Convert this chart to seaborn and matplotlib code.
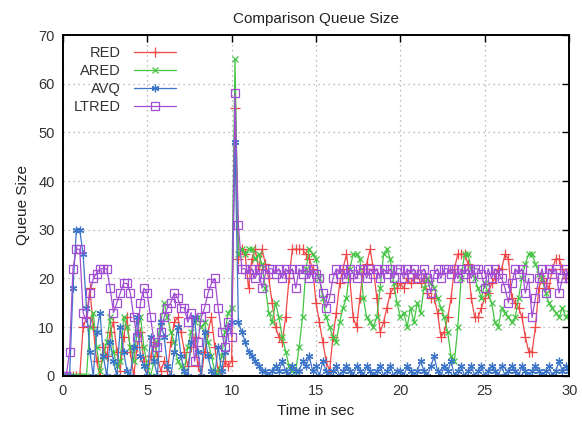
import numpy as np
import pandas as pd
import matplotlib
matplotlib.use("Agg")
import matplotlib.pyplot as plt
import seaborn as sns

# time axis: samples every 0.2 s from 0 to 30 s
time_step = 0.2
n_points = 151

red = [
    0, 0, 0, 0, 0, 0, 10, 12, 18, 10,
    3, 0, 6, 4, 9, 11, 5, 1, 8, 12,
    5, 0, 6, 9, 3, 0, 4, 7, 4, 1,
    3, 1, 7, 11, 12, 9, 5, 2, 6, 8,
    2, 0, 5, 9, 12, 6, 1, 0, 3, 2,
    3, 55, 24, 26, 25, 18, 24, 26, 22, 26,
    23, 20, 15, 10, 8, 7, 12, 20, 26, 26,
    26, 26, 25, 24, 22, 15, 11, 7, 3, 1,
    8, 13, 19, 22, 25, 20, 12, 10, 16, 22,
    23, 26, 22, 16, 9, 11, 14, 17, 18, 18,
    19, 18, 20, 19, 20, 21, 19, 20, 17, 16,
    16, 13, 8, 9, 12, 16, 22, 25, 25, 25,
    23, 16, 12, 12, 14, 16, 17, 19, 20, 22,
    22, 25, 24, 16, 15, 14, 12, 8, 5, 5,
    10, 18, 20, 19, 18, 22, 24, 24, 22, 20,
    22,
]

ared = [
    0, 0, 0, 0, 0, 0, 0, 0, 10, 13,
    6, 1, 4, 7, 12, 5, 2, 3, 12, 10,
    6, 3, 9, 12, 6, 2, 0, 3, 7, 11,
    15, 12, 9, 7, 3, 2, 1, 6, 9, 11,
    12, 10, 11, 7, 4, 1, 0, 4, 9, 13,
    14, 65, 25, 26, 25, 26, 26, 24, 25, 23,
    18, 13, 11, 15, 12, 8, 5, 2, 1, 1,
    6, 12, 22, 26, 25, 24, 20, 16, 12, 10,
    8, 7, 11, 14, 16, 22, 25, 25, 24, 16,
    12, 11, 10, 12, 18, 25, 26, 24, 19, 15,
    12, 13, 10, 14, 11, 15, 13, 18, 20, 19,
    18, 16, 14, 12, 9, 4, 3, 10, 20, 25,
    25, 22, 20, 18, 16, 19, 17, 15, 11, 10,
    14, 13, 12, 11, 12, 16, 20, 23, 25, 25,
    23, 21, 20, 17, 15, 14, 13, 12, 14, 12,
    13,
]

avq = [
    0, 0, 0, 18, 30, 30, 25, 14, 5, 0,
    9, 13, 4, 0, 7, 3, 0, 10, 5, 1,
    0, 6, 12, 4, 2, 0, 8, 3, 0, 11,
    8, 2, 0, 5, 10, 4, 1, 0, 7, 12,
    5, 0, 9, 4, 1, 0, 6, 1, 5, 10,
    11, 48, 11, 9, 7, 5, 4, 3, 2, 1,
    1, 0, 1, 2, 1, 3, 1, 0, 2, 1,
    1, 3, 2, 4, 1, 2, 0, 3, 1, 0,
    1, 2, 0, 1, 2, 1, 0, 2, 1, 0,
    2, 1, 0, 1, 2, 0, 1, 2, 0, 1,
    1, 0, 2, 1, 0, 1, 3, 1, 0, 2,
    4, 1, 0, 2, 1, 3, 0, 1, 2, 0,
    1, 2, 0, 1, 2, 0, 1, 2, 1, 0,
    2, 0, 1, 2, 1, 0, 2, 1, 0, 1,
    2, 1, 0, 1, 2, 0, 1, 3, 1, 2,
    1,
]

ltred = [
    0, 0, 5, 22, 26, 26, 13, 11, 17, 20,
    21, 22, 22, 22, 18, 13, 15, 17, 19, 19,
    17, 12, 8, 15, 18, 17, 12, 7, 6, 9,
    12, 14, 15, 17, 16, 14, 14, 11, 13, 3,
    7, 12, 14, 17, 19, 20, 14, 9, 6, 11,
    8, 58, 31, 22, 22, 21, 22, 20, 22, 18,
    21, 22, 22, 21, 22, 20, 22, 21, 22, 18,
    22, 21, 22, 20, 22, 21, 20, 17, 14, 16,
    20, 22, 21, 22, 20, 22, 21, 20, 22, 22,
    20, 22, 21, 22, 20, 22, 21, 22, 20, 22,
    22, 20, 22, 21, 22, 20, 21, 22, 20, 17,
    21, 22, 20, 22, 22, 21, 22, 20, 22, 21,
    22, 20, 22, 22, 21, 18, 22, 20, 22, 21,
    20, 18, 15, 19, 22, 21, 22, 17, 20, 12,
    16, 20, 22, 17, 22, 21, 22, 17, 20, 22,
    20,
]

series_names = ["RED", "ARED", "AVQ", "LTRED"]
x_ticks = [0, 5, 10, 15, 20, 25, 30]
y_ticks = [0, 10, 20, 30, 40, 50, 60, 70]

t = np.round(np.arange(n_points) * time_step, 1)

sns.set_theme(style="white")
plt.rcParams["font.family"] = ["Liberation Sans", "DejaVu Sans"]

fig = plt.figure(figsize=(5.82, 4.33), dpi=100)
ax = fig.add_axes([0.108, 0.132, 0.870, 0.787])

styles = {
    "RED": dict(color="#f04848", marker="+", ms=6.5, mew=0.9, mfc="#f04848"),
    "ARED": dict(color="#44c444", marker="x", ms=5, mew=0.9, mfc="#44c444"),
    "AVQ": dict(color="#3c74c8", marker=(6, 2, 0), ms=5.5, mew=0.9, mfc="#3c74c8"),
    "LTRED": dict(color="#a24ed2", marker="s", ms=5.2, mew=0.9, mfc="none"),
}

data = {"RED": red, "ARED": ared, "AVQ": avq, "LTRED": ltred}
for name in series_names:
    st = styles[name]
    sns.lineplot(x=t, y=data[name], ax=ax, color=st["color"], lw=0.9,
                 marker=st["marker"], markersize=st["ms"],
                 markeredgewidth=st["mew"], markerfacecolor=st["mfc"],
                 markeredgecolor=st["color"], label=name, estimator=None,
                 sort=False)

ax.set_xlim(0, 30)
ax.set_ylim(0, 70)
ax.set_xticks(x_ticks)
ax.set_yticks(y_ticks)
ax.grid(True, color="#a8a8a8", linestyle=(0, (1, 3)), linewidth=0.9)
for sp in ax.spines.values():
    sp.set_color("black")
    sp.set_linewidth(1.4)
ax.tick_params(direction="in", length=5, width=1, top=True, right=True,
               labelsize=10.5, colors="black", labelcolor="#333333", pad=6)

ax.set_title("Comparison Queue Size", fontsize=11, color="#222222", pad=9)
ax.set_xlabel("Time in sec", fontsize=11, color="#222222", labelpad=4)
ax.set_ylabel("Queue Size", fontsize=11, color="#222222", labelpad=6)

leg = ax.legend(loc="upper left", markerfirst=False, frameon=False,
                fontsize=10.5, handlelength=2.9, handletextpad=0.9,
                labelspacing=0.28, borderaxespad=0.35,
                bbox_to_anchor=(0.0, 1.0))
for txt in leg.get_texts():
    txt.set_color("#333333")

fig.savefig("out.png", dpi=100)
